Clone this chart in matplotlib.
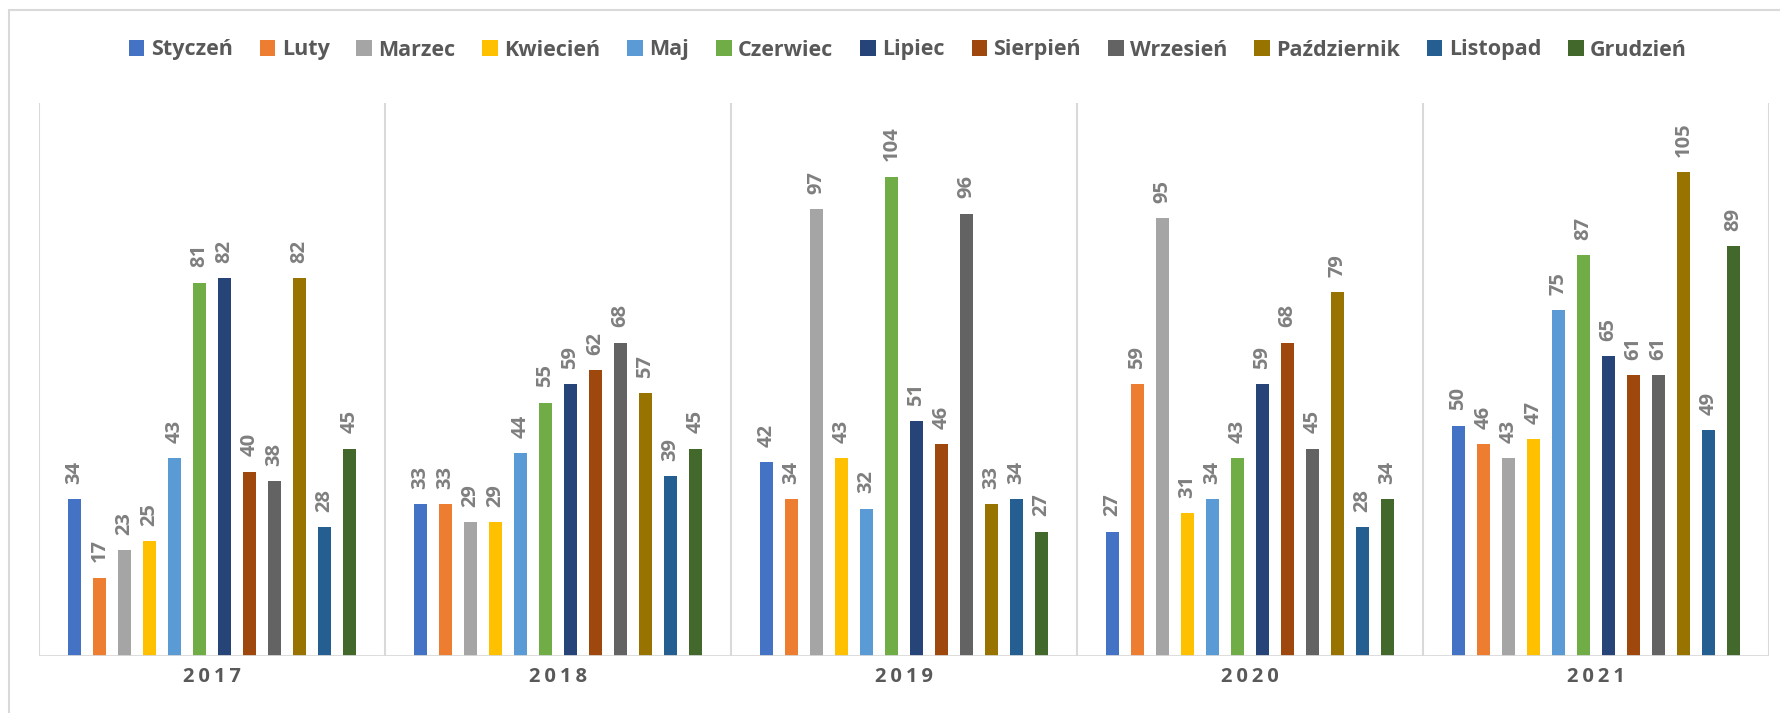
import matplotlib
matplotlib.use("Agg")
import matplotlib.pyplot as plt
from matplotlib.patches import Patch, Rectangle
import numpy as np

years = ["2017", "2018", "2019", "2020", "2021"]
months = ["Styczeń", "Luty", "Marzec", "Kwiecień", "Maj", "Czerwiec", "Lipiec",
          "Sierpień", "Wrzesień", "Październik", "Listopad", "Grudzień"]
colors = ["#4472C4", "#ED7D31", "#A5A5A5", "#FFC000", "#5B9BD5", "#70AD47",
          "#264478", "#9E480E", "#636363", "#997300", "#255E91", "#43682B"]

v2017 = [34, 17, 23, 25, 43, 81, 82, 40, 38, 82, 28, 45]
v2018 = [33, 33, 29, 29, 44, 55, 59, 62, 68, 57, 39, 45]
v2019 = [42, 34, 97, 43, 32, 104, 51, 46, 96, 33, 34, 27]
v2020 = [27, 59, 95, 31, 34, 43, 59, 68, 45, 79, 28, 34]
v2021 = [50, 46, 43, 47, 75, 87, 65, 61, 61, 105, 49, 89]
values = [v2017, v2018, v2019, v2020, v2021]

FONT = ["Open Sans", "DejaVu Sans"]
plt.rcParams["font.family"] = FONT

W, H = 1780, 713
fig = plt.figure(figsize=(W / 100, H / 100), dpi=100)
fig.patch.set_facecolor("white")

# outer chart border
fig.add_artist(Rectangle((9 / W, -0.05), 1.2, (H - 10) / H + 0.05, transform=fig.transFigure,
                         fill=False, edgecolor="#D9D9D9", linewidth=1.5))

ax = fig.add_axes([39 / W, 1 - 656 / H, (1769 - 39) / W, (656 - 103) / H])
ax.set_xlim(0, len(years))
ax.set_ylim(0, 120)
for s in ax.spines.values():
    s.set_visible(False)
ax.set_yticks([])
ax.set_xticks([])

spacing = 0.0723
bw = 0.0376
n = len(months)
for mi, (m, c) in enumerate(zip(months, colors)):
    xs = [g + 0.5 + (mi - (n - 1) / 2) * spacing for g in range(len(years))]
    ys = [values[g][mi] for g in range(len(years))]
    ax.bar(xs, ys, width=bw, color=c, zorder=3)
    for x, y in zip(xs, ys):
        ax.annotate(str(y), (x, y), xytext=(0, 11), textcoords="offset points",
                    rotation=90, ha="center", va="bottom", fontsize=14.5,
                    fontweight="bold", color="#7F7F7F")

# separators and baseline
for g in range(len(years) + 1):
    ax.axvline(g, ymin=0, ymax=1, color="#D9D9D9", linewidth=1.5, zorder=1)
ax.axhline(0, color="#D9D9D9", linewidth=2, zorder=4)

for g, yr in enumerate(years):
    ax.text(g + 0.5, -4.6, "\u2009".join(yr), ha="center", va="center",
            fontsize=14.5, fontweight="bold", color="#595959", family=FONT)

handles = [Patch(facecolor=c, edgecolor="none") for c in colors]
fig.legend(handles, months, loc="center", bbox_to_anchor=(908 / W, 1 - 50 / H),
           ncol=12, frameon=False,
           prop={"weight": "bold", "size": 15.5},
           handlelength=0.72, handleheight=0.72, handletextpad=0.3,
           columnspacing=1.25, labelcolor="#595959")

fig.savefig("out.png", dpi=100, facecolor="white")
